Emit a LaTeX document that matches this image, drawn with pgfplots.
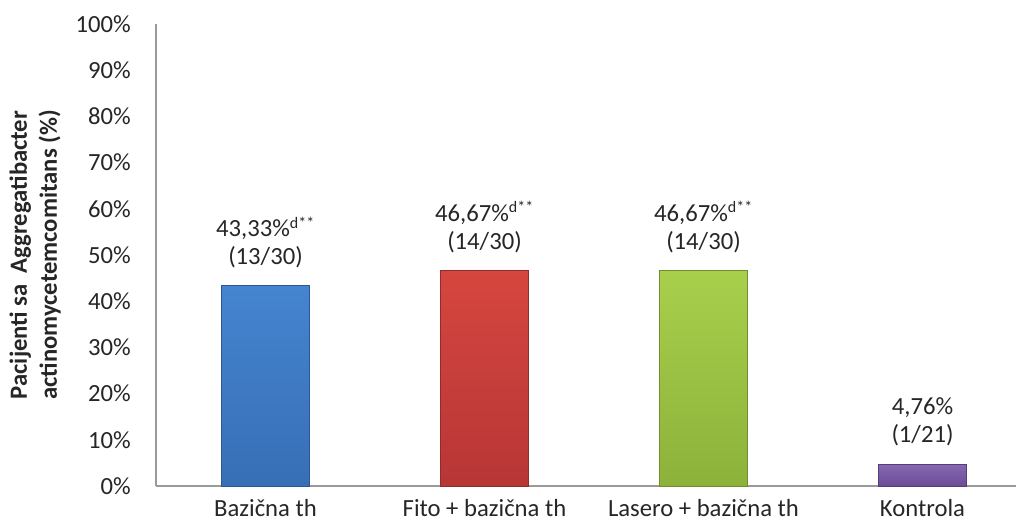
\documentclass[border=0pt]{standalone}
\usepackage{fontspec}
\setmainfont{Carlito}
\usepackage{pgfplots}
\pgfplotsset{compat=1.18}

\definecolor{barBlueT}{HTML}{4584D0}
\definecolor{barBlueB}{HTML}{376FB5}
\definecolor{barRedT}{HTML}{D6463F}
\definecolor{barRedB}{HTML}{B73636}
\definecolor{barGreenT}{HTML}{A8CF4C}
\definecolor{barGreenB}{HTML}{8CB23A}
\definecolor{barPurpT}{HTML}{8667B2}
\definecolor{barPurpB}{HTML}{6B4C95}
\definecolor{axisgray}{HTML}{9A9A9A}
\definecolor{txt}{HTML}{262626}

% significance mark set after a percentage
\newcommand{\sig}{\textsuperscript{\fontsize{12}{12}\selectfont d**}}

\begin{document}
\begin{tikzpicture}
\begin{axis}[
  scale only axis,
  width=657pt, height=346.5pt,
  xmin=-0.5, xmax=3.5,
  ymin=0, ymax=100,
  axis lines*=left,
  axis line style={axisgray, line width=0.8pt},
  major tick length=0pt,
  ybar, bar width=66pt, bar shift=0pt,
  xtick={0,1,2,3},
  xticklabels={Bazična th, Fito + bazična th, Lasero + bazična th, Kontrola},
  ytick={0,10,...,100},
  yticklabels={0\%,10\%,20\%,30\%,40\%,50\%,60\%,70\%,80\%,90\%,100\%},
  tick label style={font=\fontsize{18.5}{22}\selectfont, text=txt},
  xticklabel style={inner sep=0pt, anchor=north, yshift=-10pt},
  yticklabel style={inner sep=0pt, anchor=east, xshift=-18.75pt},
  ylabel={Pacijenti sa~ Aggregatibacter\\actinomycetemcomitans (\%)},
  ylabel style={font=\bfseries\fontsize{18.5}{22.5}\selectfont, text=txt, align=center, inner sep=0pt},
  ylabel shift=11pt,
  point meta=explicit symbolic,
  nodes near coords,
  every node near coord/.append style={font=\fontsize{18.5}{21}\selectfont, text=txt,
    align=center, anchor=south, inner sep=0pt, yshift=13pt},
  clip=false,
]
\addplot[draw=barBlueB!80!black, line width=0.5pt, top color=barBlueT, bottom color=barBlueB]
  coordinates {(0,43.33) [43,33\%\sig\\(13/30)]};
\addplot[draw=barRedB!80!black, line width=0.5pt, top color=barRedT, bottom color=barRedB]
  coordinates {(1,46.67) [46,67\%\sig\\(14/30)]};
\addplot[draw=barGreenB!80!black, line width=0.5pt, top color=barGreenT, bottom color=barGreenB]
  coordinates {(2,46.67) [46,67\%\sig\\(14/30)]};
\addplot[draw=barPurpB!80!black, line width=0.5pt, top color=barPurpT, bottom color=barPurpB]
  coordinates {(3,4.76) [4,76\%\\(1/21)]};
\end{axis}
\pgfresetboundingbox
\path ([xshift=-117pt, yshift=-30pt]current axis.south west)
  rectangle ([xshift=645pt, yshift=18pt]current axis.north west);
\end{tikzpicture}
\end{document}
